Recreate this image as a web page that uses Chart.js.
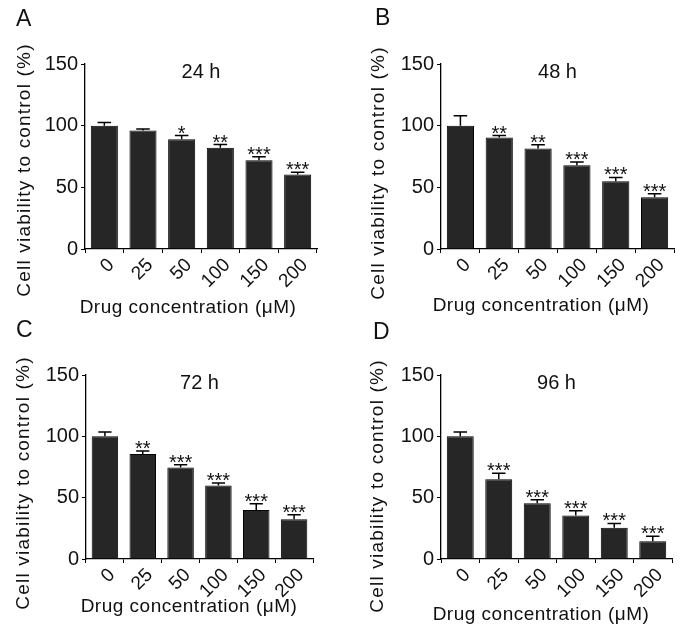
<!DOCTYPE html>
<html>
<head>
<meta charset="utf-8">
<script src="https://cdn.jsdelivr.net/npm/chart.js@4/dist/chart.umd.min.js"></script>
<style>
  body { margin: 0; background: #fff; }
  #wrap { position: relative; width: 688px; height: 634px; background: #fff; }
  canvas { position: absolute; }
</style>
</head>
<body>
<div id="wrap">
  <canvas id="pA" width="344" height="317" style="left:0;top:0"></canvas>
  <canvas id="pB" width="344" height="317" style="left:344px;top:0"></canvas>
  <canvas id="pC" width="344" height="317" style="left:0;top:317px"></canvas>
  <canvas id="pD" width="344" height="317" style="left:344px;top:317px"></canvas>
</div>
<script>
const concentrations = ['0', '25', '50', '100', '150', '200'];

const mean24 = [100, 96, 89, 82, 72, 60.5];
const err24 = [2.5, 1.3, 3, 2.7, 2.7, 1.7];
const stars24 = ['', '', '*', '**', '***', '***'];

const mean48 = [100, 90.5, 81.5, 68, 55, 42];
const err48 = [8, 1.5, 3, 2.5, 3, 2.7];
const stars48 = ['', '**', '**', '***', '***', '***'];

const mean72 = [100, 85.5, 74.5, 60, 40, 32.5];
const err72 = [3.5, 2.5, 2.3, 2, 5, 3.5];
const stars72 = ['', '**', '***', '***', '***', '***'];

const mean96 = [100, 65, 45.5, 35.5, 25.5, 14.5];
const err96 = [3.5, 5, 2.8, 3.8, 3.5, 4];
const stars96 = ['', '***', '***', '***', '***', '***'];

const FONT = '"Liberation Sans", Arial, Helvetica, sans-serif';

function panel(id, letter, time, means, errs, stars, box) {
  const W = 344, H = 317;

  const annot = {
    id: 'annot_' + id,
    afterDatasetsDraw(chart) {
      const ctx = chart.ctx;
      const y = chart.scales.y;
      const meta = chart.getDatasetMeta(0);
      ctx.save();
      ctx.strokeStyle = '#000';
      ctx.lineWidth = 1.5;
      ctx.fillStyle = '#111';
      ctx.font = '20px ' + FONT;
      ctx.textAlign = 'center';
      ctx.textBaseline = 'alphabetic';
      means.forEach((m, i) => {
        const bar = meta.data[i];
        const top = y.getPixelForValue(m + errs[i]);
        const half = bar.width / 4;
        ctx.beginPath();
        ctx.moveTo(bar.x, bar.y);
        ctx.lineTo(bar.x, top);
        ctx.moveTo(bar.x - half, top);
        ctx.lineTo(bar.x + half, top);
        ctx.stroke();
        if (stars[i]) ctx.fillText(stars[i], bar.x, top + 4);
      });
      ctx.restore();
    },
    afterDraw(chart) {
      const ctx = chart.ctx;
      const a = chart.chartArea;
      ctx.save();
      ctx.fillStyle = '#111';
      ctx.textBaseline = 'alphabetic';

      // panel letter
      ctx.textAlign = 'left';
      ctx.font = '23px ' + FONT;
      ctx.fillText(letter, box.lx, box.ly);

      // time label inside plot
      ctx.textAlign = 'center';
      ctx.font = '20px ' + FONT;
      ctx.fillText(time, (a.left + a.right) / 2, a.top + 14);

      // x axis title
      ctx.font = '19px ' + FONT;
      ctx.letterSpacing = '0.5px';
      ctx.fillText('Drug concentration (\u03bcM)', box.xx, box.xy);

      // y axis title
      ctx.translate(box.yx, box.yy);
      ctx.rotate(-Math.PI / 2);
      ctx.textBaseline = 'middle';
      ctx.letterSpacing = '1.2px';
      ctx.fillText('Cell viability to control (%)', 0, 0);
      ctx.restore();
    }
  };

  return new Chart(document.getElementById(id), {
    type: 'bar',
    data: {
      labels: concentrations,
      datasets: [{
        data: means,
        backgroundColor: '#262626',
        borderColor: '#000',
        borderWidth: 1,
        barPercentage: 1,
        categoryPercentage: 0.7
      }]
    },
    options: {
      responsive: false,
      animation: false,
      devicePixelRatio: 1,
      layout: { padding: { left: 0, top: box.top, right: W - box.right, bottom: 0 } },
      plugins: { legend: { display: false }, tooltip: { enabled: false } },
      scales: {
        x: {
          afterFit: s => { s.height = H - box.bottom; },
          border: { display: true, color: '#000', width: 1.3 },
          grid: { display: true, drawOnChartArea: false, drawTicks: true, tickLength: 4, color: '#000' },
          ticks: { color: '#111', font: { family: FONT, size: 19 }, minRotation: 45, maxRotation: 45, padding: 1, labelOffset: 7 }
        },
        y: {
          min: 0, max: 150,
          afterFit: s => { s.width = box.left; },
          border: { display: true, color: '#000', width: 1.3 },
          grid: { display: true, drawOnChartArea: false, drawTicks: true, tickLength: 4, color: '#000' },
          ticks: { stepSize: 50, color: '#111', font: { family: FONT, size: 20 }, padding: 3 }
        }
      }
    },
    plugins: [annot]
  });
}

panel('pA', 'A', '24 h', mean24, err24, stars24,
  { left: 85, right: 317, top: 64, bottom: 249, lx: 16, ly: 26, xx: 188, xy: 313, yx: 25, yy: 170 });
panel('pB', 'B', '48 h', mean48, err48, stars48,
  { left: 97, right: 330, top: 64, bottom: 249, lx: 31, ly: 25, xx: 197, xy: 311, yx: 35, yy: 173 });
panel('pC', 'C', '72 h', mean72, err72, stars72,
  { left: 86, right: 313, top: 58, bottom: 242, lx: 16, ly: 20, xx: 189, xy: 295, yx: 24, yy: 166 });
panel('pD', 'D', '96 h', mean96, err96, stars96,
  { left: 97, right: 328, top: 58, bottom: 242, lx: 29, ly: 22, xx: 197, xy: 303, yx: 34, yy: 169 });
</script>
</body>
</html>
